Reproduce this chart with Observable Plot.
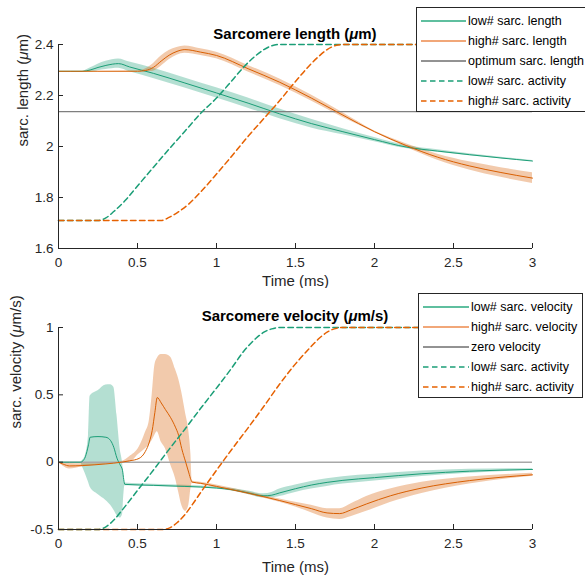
<!DOCTYPE html>
<html>
<head>
<meta charset="utf-8">
<script src="https://cdn.jsdelivr.net/npm/d3@7"></script>
<script src="https://cdn.jsdelivr.net/npm/@observablehq/plot@0.6"></script>
<style>
  body { margin: 0; background: white; }
  #wrap { position: relative; width: 585px; height: 576px; font-family: "Liberation Sans", Arial, sans-serif; color: #262626; }
  .title { position: absolute; left: 58px; width: 474px; text-align: center; font-weight: bold; font-size: 15px; line-height: 15px; color: #000; }
  .legend { position: absolute; background: white; border: 1px solid #262626; box-sizing: border-box; padding-top: 3px; }
  .row { height: 20px; display: flex; align-items: center; font-size: 12.5px; white-space: nowrap; color: #000; }
  .row svg { margin-left: 4px; margin-right: 2px; }
</style>
</head>
<body>
<div id="wrap">
  <div id="top"></div>
  <div id="bot"></div>
</div>
<script>
// ---------- axes / ticks ----------
const xTicks = [0, 0.5, 1, 1.5, 2, 2.5, 3];
const yTicksLength = [1.6, 1.8, 2, 2.2, 2.4];
const yTicksVelocity = [-0.5, 0, 0.5, 1];
const optimumLength = 2.137;
const zeroVelocity = 0;

// ---------- top panel: sarcomere length ----------
const tLowLen = [0, 0.15, 0.2, 0.25, 0.3, 0.38, 0.45, 0.6, 0.8, 1.0, 1.2, 1.4, 1.6, 1.8, 2.0, 2.2, 2.4, 2.6, 2.8, 3.0];
const lowLenMean = [2.295, 2.295, 2.30, 2.31, 2.318, 2.325, 2.312, 2.287, 2.249, 2.21, 2.17, 2.128, 2.09, 2.058, 2.027, 1.998, 1.982, 1.968, 1.955, 1.943];
const lowLenLo = [2.295, 2.295, 2.292, 2.297, 2.302, 2.307, 2.293, 2.267, 2.229, 2.19, 2.15, 2.109, 2.073, 2.046, 2.019, 1.992, 1.977, 1.964, 1.952, 1.941];
const lowLenHi = [2.295, 2.295, 2.308, 2.323, 2.334, 2.343, 2.331, 2.307, 2.269, 2.23, 2.19, 2.147, 2.107, 2.07, 2.035, 2.004, 1.987, 1.972, 1.958, 1.945];

const tHighLen = [0, 0.5, 0.55, 0.6, 0.65, 0.7, 0.75, 0.8, 0.9, 1.0, 1.2, 1.4, 1.6, 1.8, 2.0, 2.2, 2.4, 2.6, 2.8, 3.0];
const highLenMean = [2.295, 2.295, 2.298, 2.31, 2.335, 2.358, 2.373, 2.38, 2.37, 2.357, 2.305, 2.252, 2.19, 2.123, 2.058, 2.004, 1.958, 1.924, 1.898, 1.876];
const highLenLo = [2.295, 2.294, 2.292, 2.295, 2.315, 2.34, 2.358, 2.366, 2.357, 2.344, 2.292, 2.239, 2.178, 2.114, 2.055, 1.997, 1.946, 1.908, 1.879, 1.855];
const highLenHi = [2.295, 2.296, 2.304, 2.325, 2.355, 2.376, 2.388, 2.394, 2.383, 2.37, 2.318, 2.265, 2.202, 2.132, 2.061, 2.011, 1.970, 1.940, 1.917, 1.897];

const tLowActTop = [0, 0.25, 0.3, 0.35, 0.42, 0.5, 0.6, 0.7, 0.8, 0.9, 1.0, 1.1, 1.17, 1.25, 1.3, 1.35, 1.4, 3.0];
const lowActTop = [1.71, 1.71, 1.72, 1.745, 1.787, 1.845, 1.918, 1.99, 2.06, 2.13, 2.19, 2.26, 2.31, 2.357, 2.38, 2.395, 2.4, 2.4];
const tHighActTop = [0, 0.65, 0.7, 0.75, 0.82, 0.9, 1.0, 1.1, 1.2, 1.3, 1.4, 1.5, 1.6, 1.65, 1.7, 1.76, 1.8, 3.0];
const highActTop = [1.71, 1.71, 1.722, 1.74, 1.772, 1.822, 1.892, 1.965, 2.04, 2.11, 2.18, 2.255, 2.325, 2.355, 2.38, 2.397, 2.4, 2.4];

// ---------- bottom panel: sarcomere velocity ----------
const tLowVel = [0, 0.14, 0.15, 0.17, 0.19, 0.2, 0.25, 0.3, 0.33, 0.35, 0.37, 0.39, 0.405, 0.413, 0.42, 0.6, 0.8, 1.0, 1.1, 1.2, 1.3, 1.35, 1.4, 1.5, 1.6, 1.7, 1.8, 2.0, 2.3, 2.6, 3.0];
const lowVelMean = [0, 0, 0.005, 0.04, 0.13, 0.185, 0.19, 0.185, 0.16, 0.11, 0.03, -0.02, -0.06, -0.13, -0.165, -0.172, -0.18, -0.192, -0.205, -0.228, -0.25, -0.245, -0.228, -0.197, -0.17, -0.15, -0.135, -0.115, -0.086, -0.067, -0.054];
const lowVelLo = [0, 0, -0.03, -0.086, -0.15, -0.185, -0.24, -0.284, -0.32, -0.355, -0.395, -0.415, -0.39, -0.25, -0.175, -0.18, -0.188, -0.2, -0.215, -0.24, -0.265, -0.265, -0.255, -0.225, -0.2, -0.18, -0.163, -0.14, -0.106, -0.082, -0.06];
const lowVelHi = [0, 0, 0.01, 0.05, 0.2, 0.49, 0.53, 0.573, 0.575, 0.556, 0.35, 0.1, 0.0, -0.1, -0.155, -0.164, -0.172, -0.184, -0.195, -0.215, -0.235, -0.225, -0.2, -0.17, -0.143, -0.123, -0.108, -0.09, -0.066, -0.052, -0.048];

const tHighVel = [0, 0.03, 0.07, 0.15, 0.3, 0.4, 0.45, 0.51, 0.55, 0.575, 0.593, 0.61, 0.625, 0.65, 0.677, 0.71, 0.74, 0.76, 0.78, 0.805, 0.825, 0.838, 0.846, 0.9, 1.0, 1.2, 1.4, 1.5, 1.6, 1.7, 1.78, 1.85, 1.95, 2.1, 2.3, 2.6, 3.0];
const highVelMean = [0, -0.015, -0.028, -0.025, -0.013, 0.0, 0.01, 0.028, 0.08, 0.15, 0.235, 0.37, 0.48, 0.44, 0.39, 0.33, 0.26, 0.2, 0.1, 0.0, -0.08, -0.13, -0.148, -0.157, -0.18, -0.23, -0.285, -0.315, -0.345, -0.377, -0.382, -0.355, -0.31, -0.25, -0.192, -0.137, -0.094];
const highVelLo = [0, -0.03, -0.05, -0.035, -0.016, -0.004, 0.0, 0.06, 0.1, 0.13, 0.16, 0.2, 0.225, 0.15, 0.1, -0.02, -0.12, -0.22, -0.32, -0.365, -0.32, -0.2, -0.158, -0.165, -0.19, -0.24, -0.297, -0.333, -0.375, -0.415, -0.425, -0.405, -0.365, -0.3, -0.233, -0.163, -0.105];
const highVelHi = [0, -0.005, -0.01, -0.012, -0.008, 0.005, 0.04, 0.11, 0.22, 0.31, 0.5, 0.72, 0.77, 0.8, 0.8, 0.78, 0.69, 0.62, 0.52, 0.36, 0.23, 0.06, -0.14, -0.149, -0.17, -0.22, -0.273, -0.297, -0.32, -0.345, -0.345, -0.31, -0.255, -0.2, -0.15, -0.111, -0.083];

const tLowActBot = [0, 0.25, 0.3, 0.35, 0.4, 0.5, 0.6, 0.7, 0.8, 0.9, 1.0, 1.1, 1.17, 1.25, 1.3, 1.35, 1.4, 3.0];
const lowActBot = [-0.5, -0.5, -0.48, -0.43, -0.36, -0.21, -0.06, 0.095, 0.245, 0.4, 0.55, 0.705, 0.82, 0.92, 0.965, 0.99, 1.0, 1.0];
const tHighActBot = [0, 0.65, 0.7, 0.75, 0.8, 0.85, 0.9, 1.0, 1.1, 1.2, 1.3, 1.4, 1.5, 1.6, 1.65, 1.7, 1.76, 1.8, 3.0];
const highActBot = [-0.5, -0.5, -0.49, -0.45, -0.39, -0.31, -0.225, -0.06, 0.1, 0.255, 0.415, 0.58, 0.73, 0.86, 0.92, 0.965, 0.995, 1.0, 1.0];

// ---------- labels ----------
const topLegend = ["low# sarc. length", "high# sarc. length", "optimum sarc. length", "low# sarc. activity", "high# sarc. activity"];
const botLegend = ["low# sarc. velocity", "high# sarc. velocity", "zero velocity", "low# sarc. activity", "high# sarc. activity"];

// ---------- styling ----------
const green = "#1b9e77", orange = "#d95f02";
const greenDash = "#1b9e77", orangeDash = "#e66101";
const ink = "#262626";
const curve = "monotone-x";
const bandOpacity = 0.33;

const band = (t, m, lo, hi) => t.map((x, i) => ({t: x, m: m[i], lo: lo[i], hi: hi[i]}));
const series = (t, v) => t.map((x, i) => ({t: x, v: v[i]}));

function panel({height, marginTop, marginBottom, yDomain, yTicks, low, high, lowAct, highAct, refValue, refStroke, refWidth, xLabelDy, yLabel, yLabelDx}) {
  const W = 585, mL = 58, mR = 53, tick = 5;
  const frameW = W - mL - mR, frameH = height - marginTop - marginBottom;
  return Plot.plot({
    width: W, height, marginLeft: mL, marginRight: mR, marginTop, marginBottom,
    style: {fontFamily: '"Liberation Sans", Arial, sans-serif', fontSize: "13.5px", color: ink, background: "white"},
    x: {domain: [0, 3]},
    y: {domain: yDomain},
    marks: [
      Plot.areaY(low, {x: "t", y1: "lo", y2: "hi", fill: green, fillOpacity: bandOpacity, curve}),
      Plot.areaY(high, {x: "t", y1: "lo", y2: "hi", fill: orange, fillOpacity: bandOpacity, curve}),
      Plot.ruleY([refValue], {stroke: refStroke, strokeWidth: refWidth}),
      Plot.lineY(low, {x: "t", y: "m", stroke: green, strokeWidth: 1, curve}),
      Plot.lineY(high, {x: "t", y: "m", stroke: orange, strokeWidth: 1, curve}),
      Plot.lineY(lowAct, {x: "t", y: "v", stroke: greenDash, strokeWidth: 1.5, strokeDasharray: "5.5,3.5", curve}),
      Plot.lineY(highAct, {x: "t", y: "v", stroke: orangeDash, strokeWidth: 1.5, strokeDasharray: "5.5,3.5", curve}),
      // axis lines
      Plot.ruleX([0], {stroke: ink}),
      Plot.ruleY([yDomain[0]], {stroke: ink}),
      // inward ticks
      Plot.ruleX(xTicks, {stroke: ink, insetTop: frameH - tick}),
      Plot.ruleY(yTicks, {stroke: ink, insetRight: frameW - tick}),
      Plot.axisX({ticks: xTicks, tickFormat: d => String(d), tickSize: 0, tickPadding: 9, label: null}),
      Plot.axisY({ticks: yTicks, tickFormat: d => String(d), tickSize: 0, tickPadding: 5, label: null}),
      Plot.text(["Time (ms)"], {text: d => d, frameAnchor: "bottom", dy: xLabelDy, fontSize: 15, fill: ink}),
      Plot.text([yLabel], {text: d => d, frameAnchor: "left", rotate: -90, dx: yLabelDx, fontSize: 15, fill: ink})
    ]
  });
}

function italicMu(svg) {
  const ns = "http://www.w3.org/2000/svg";
  svg.querySelectorAll("text").forEach(t => {
    const s = t.textContent;
    if (!s.includes("μ")) return;
    t.textContent = "";
    s.split(/(μ)/).forEach(part => {
      if (!part) return;
      const ts = document.createElementNS(ns, "tspan");
      ts.textContent = part;
      if (part === "μ") ts.setAttribute("font-style", "italic");
      t.appendChild(ts);
    });
  });
}

const topSvg = panel({
  height: 288, marginTop: 44, marginBottom: 40,
  yDomain: [1.6, 2.4], yTicks: yTicksLength,
  low: band(tLowLen, lowLenMean, lowLenLo, lowLenHi),
  high: band(tHighLen, highLenMean, highLenLo, highLenHi),
  lowAct: series(tLowActTop, lowActTop),
  highAct: series(tHighActTop, highActTop),
  refValue: optimumLength, refStroke: "#7f7f7f", refWidth: 1.2,
  xLabelDy: 37, yLabel: "sarc. length (μm)", yLabelDx: -35
});
const botSvg = panel({
  height: 288, marginTop: 39, marginBottom: 47,
  yDomain: [-0.5, 1], yTicks: yTicksVelocity,
  low: band(tLowVel, lowVelMean, lowVelLo, lowVelHi),
  high: band(tHighVel, highVelMean, highVelLo, highVelHi),
  lowAct: series(tLowActBot, lowActBot),
  highAct: series(tHighActBot, highActBot),
  refValue: zeroVelocity, refStroke: "#a8a8a8", refWidth: 1.5,
  xLabelDy: 42, yLabel: "sarc. velocity (μm/s)", yLabelDx: -42
});
italicMu(topSvg); italicMu(botSvg);
topSvg.style.display = "block"; botSvg.style.display = "block";
document.getElementById("top").appendChild(topSvg);
document.getElementById("bot").appendChild(botSvg);

// ---------- titles ----------
const wrap = document.getElementById("wrap");
function addTitle(html, top) {
  const d = document.createElement("div");
  d.className = "title";
  d.style.top = top + "px";
  d.innerHTML = html;
  wrap.appendChild(d);
}
addTitle("Sarcomere length (<i>μ</i>m)", 26);
addTitle("Sarcomere velocity (<i>μ</i>m/s)", 308);

// ---------- legends ----------
const legendStyles = [
  {stroke: "#5fbf9f", width: 2, dash: null},
  {stroke: "#ec8a4c", width: 1.5, dash: null},
  {stroke: ink, width: 1, dash: null},
  {stroke: greenDash, width: 1.5, dash: "5.5,3.5"},
  {stroke: orangeDash, width: 1.5, dash: "5.5,3.5"}
];
function addLegend(labels, box, sampleW) {
  const d = document.createElement("div");
  d.className = "legend";
  Object.assign(d.style, {left: box.left + "px", top: box.top + "px", width: box.width + "px", height: box.height + "px"});
  labels.forEach((lab, i) => {
    const st = legendStyles[i];
    const row = document.createElement("div");
    row.className = "row";
    row.innerHTML = `<svg width="${sampleW}" height="10"><line x1="0" x2="${sampleW}" y1="5" y2="5" stroke="${st.stroke}" stroke-width="${st.width}" ${st.dash ? `stroke-dasharray="${st.dash}"` : ""}/></svg><span>${lab}</span>`;
    d.appendChild(row);
  });
  wrap.appendChild(d);
}
addLegend(topLegend, {left: 416, top: 7, width: 170, height: 105}, 45);
addLegend(botLegend, {left: 418, top: 293, width: 165, height: 105}, 46);
</script>
</body>
</html>
